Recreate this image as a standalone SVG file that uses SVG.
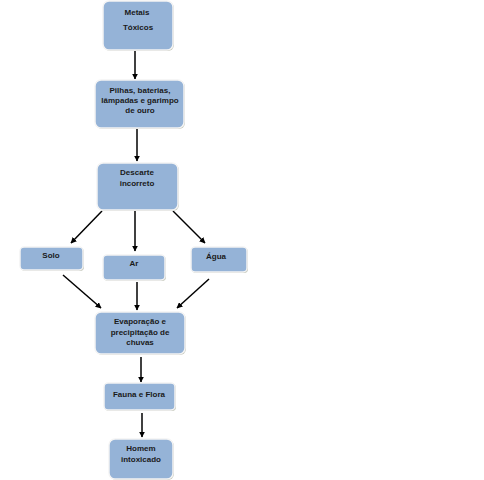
<svg xmlns="http://www.w3.org/2000/svg" width="484" height="480" viewBox="0 0 484 480">
<defs>
<style>
.box{fill:#95B3D7;stroke:#f4f4f4;stroke-width:1.5}
.sh{fill:#c9cbc0;stroke:none}
.t{font-family:"Liberation Sans",Arial,sans-serif;font-size:8px;font-weight:bold;fill:#1a1a1a;text-anchor:middle}
.c{stroke:#000;stroke-width:1.5;fill:none;marker-end:url(#ah)}
</style>
<marker id="ah" viewBox="0 0 10 10" refX="9" refY="5" markerWidth="4" markerHeight="4" orient="auto"><path d="M0,0 L10,5 L0,10 z" fill="#000"/></marker>
</defs>
<rect width="484" height="480" fill="#ffffff"/>
<g id="connectors">
<line class="c" x1="135" y1="50" x2="135" y2="79"/>
<line class="c" x1="137" y1="129" x2="137" y2="161"/>
<line class="c" x1="102" y1="211" x2="71" y2="243"/>
<line class="c" x1="135" y1="211" x2="135" y2="251"/>
<line class="c" x1="173" y1="211" x2="205" y2="243"/>
<line class="c" x1="63" y1="275" x2="101" y2="308"/>
<line class="c" x1="137" y1="282" x2="137" y2="310"/>
<line class="c" x1="209" y1="279" x2="177" y2="308"/>
<line class="c" x1="141" y1="357" x2="141" y2="382"/>
<line class="c" x1="142" y1="413" x2="142" y2="437"/>
</g>
<g id="metais">
<rect class="sh" x="104" y="2" width="70" height="49" rx="6"/>
<rect class="box" x="103" y="1" width="70" height="49" rx="6"/>
<text class="t" x="137" y="15">Metais</text>
<text class="t" x="138" y="30">Tóxicos</text>
</g>
<g id="pilhas">
<rect class="sh" x="96" y="81" width="89" height="48" rx="6"/>
<rect class="box" x="95" y="80" width="89" height="48" rx="6"/>
<text class="t" x="140" y="93">Pilhas, baterias,</text>
<text class="t" x="140" y="103">lâmpadas e garimpo</text>
<text class="t" x="140" y="113">de ouro</text>
</g>
<g id="descarte">
<rect class="sh" x="98" y="164" width="81" height="47" rx="6"/>
<rect class="box" x="97" y="163" width="81" height="47" rx="6"/>
<text class="t" x="137" y="175">Descarte</text>
<text class="t" x="137" y="186">incorreto</text>
</g>
<g id="solo">
<rect class="sh" x="21" y="248" width="63" height="23" rx="4"/>
<rect class="box" x="20" y="247" width="63" height="23" rx="4"/>
<text class="t" x="51" y="258">Solo</text>
</g>
<g id="ar">
<rect class="sh" x="104" y="256" width="62" height="25" rx="4"/>
<rect class="box" x="103" y="255" width="62" height="25" rx="4"/>
<text class="t" x="134" y="266">Ar</text>
</g>
<g id="agua">
<rect class="sh" x="192" y="248" width="56" height="25" rx="4"/>
<rect class="box" x="191" y="247" width="56" height="25" rx="4"/>
<text class="t" x="216" y="259">Água</text>
</g>
<g id="evaporacao">
<rect class="sh" x="96" y="313" width="90" height="42" rx="6"/>
<rect class="box" x="95" y="312" width="90" height="42" rx="6"/>
<text class="t" x="140" y="324">Evaporação e</text>
<text class="t" x="140" y="335">precipitação de</text>
<text class="t" x="140" y="345">chuvas</text>
</g>
<g id="fauna">
<rect class="sh" x="105" y="384" width="71" height="27" rx="4"/>
<rect class="box" x="104" y="383" width="71" height="27" rx="4"/>
<text class="t" x="139" y="397">Fauna e Flora</text>
</g>
<g id="homem">
<rect class="sh" x="110" y="440" width="64" height="40" rx="6"/>
<rect class="box" x="109" y="439" width="64" height="40" rx="6"/>
<text class="t" x="141" y="451">Homem</text>
<text class="t" x="141" y="462">intoxicado</text>
</g>
</svg>
